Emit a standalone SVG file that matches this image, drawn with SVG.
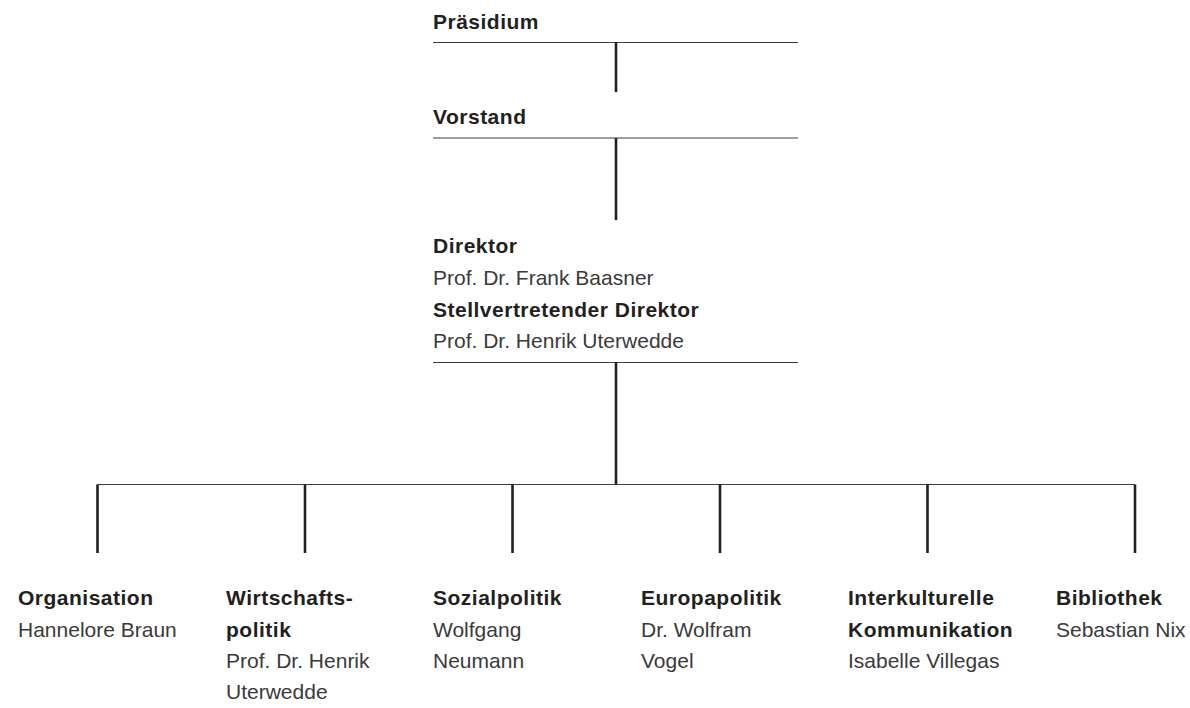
<svg xmlns="http://www.w3.org/2000/svg" width="1190" height="708" viewBox="0 0 1190 708">
<style>
text{font-family:"Liberation Sans",Arial,sans-serif;font-size:21px;fill:#231f20}
.b{font-weight:bold;letter-spacing:0.5px}
.r{fill:#3a3a3a}
.h{stroke:#3c3c3c;stroke-width:1.2;fill:none}
.v{stroke:#231f20;stroke-width:2.6;fill:none}
</style>
<rect width="1190" height="708" fill="#fff"/>
<g id="connectors">
<line class="h" x1="433" y1="42.5" x2="798" y2="42.5"/>
<line class="v" x1="616" y1="42.5" x2="616" y2="92"/>
<line class="h" x1="433" y1="138" x2="798" y2="138"/>
<line class="v" x1="616" y1="138" x2="616" y2="220"/>
<line class="h" x1="433" y1="362.5" x2="798" y2="362.5"/>
<line class="v" x1="616" y1="362.5" x2="616" y2="484.5"/>
<line class="h" x1="97.5" y1="484.5" x2="1135" y2="484.5"/>
<line class="v" x1="97.5" y1="484.5" x2="97.5" y2="553"/>
<line class="v" x1="305" y1="484.5" x2="305" y2="553"/>
<line class="v" x1="512.5" y1="484.5" x2="512.5" y2="553"/>
<line class="v" x1="720" y1="484.5" x2="720" y2="553"/>
<line class="v" x1="927.5" y1="484.5" x2="927.5" y2="553"/>
<line class="v" x1="1135" y1="484.5" x2="1135" y2="553"/>
</g>
<g id="praesidium"><text class="b" x="433" y="29">Präsidium</text></g>
<g id="vorstand"><text class="b" x="433" y="124">Vorstand</text></g>
<g id="direktor">
<text class="b" x="433" y="253">Direktor</text>
<text class="r" x="433" y="285">Prof. Dr. Frank Baasner</text>
<text class="b" x="433" y="317">Stellvertretender Direktor</text>
<text class="r" x="433" y="348">Prof. Dr. Henrik Uterwedde</text>
</g>
<g id="organisation">
<text class="b" x="18" y="605">Organisation</text>
<text class="r" x="18" y="637">Hannelore Braun</text>
</g>
<g id="wirtschaftspolitik">
<text class="b" x="226" y="605">Wirtschafts-</text>
<text class="b" x="226" y="637">politik</text>
<text class="r" x="226" y="668">Prof. Dr. Henrik</text>
<text class="r" x="226" y="699">Uterwedde</text>
</g>
<g id="sozialpolitik">
<text class="b" x="433" y="605">Sozialpolitik</text>
<text class="r" x="433" y="637">Wolfgang</text>
<text class="r" x="433" y="668">Neumann</text>
</g>
<g id="europapolitik">
<text class="b" x="641" y="605">Europapolitik</text>
<text class="r" x="641" y="637">Dr. Wolfram</text>
<text class="r" x="641" y="668">Vogel</text>
</g>
<g id="interkulturelle">
<text class="b" x="848" y="605">Interkulturelle</text>
<text class="b" x="848" y="637">Kommunikation</text>
<text class="r" x="848" y="668">Isabelle Villegas</text>
</g>
<g id="bibliothek">
<text class="b" x="1056" y="605">Bibliothek</text>
<text class="r" x="1056" y="637">Sebastian Nix</text>
</g>
</svg>
